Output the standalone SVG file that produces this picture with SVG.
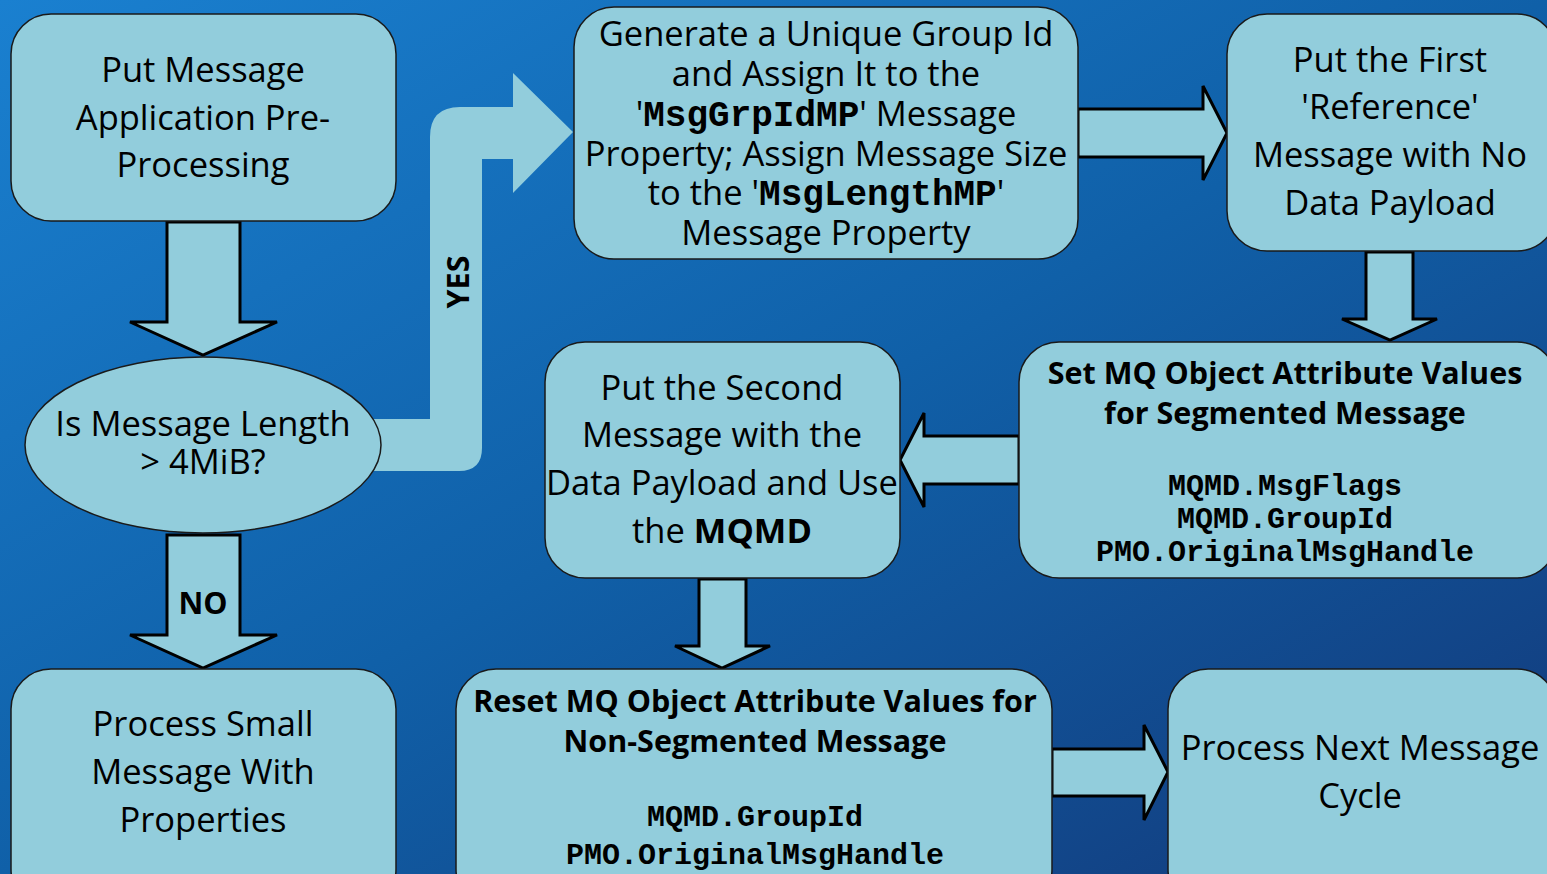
<svg xmlns="http://www.w3.org/2000/svg" width="1547" height="874" viewBox="0 0 1547 874">
<defs>
<linearGradient id="bg" x1="0" y1="0" x2="1" y2="1">
<stop offset="0" stop-color="#1a80d0"/>
<stop offset="0.5" stop-color="#1060a8"/>
<stop offset="1" stop-color="#13397a"/>
</linearGradient>
<style>
.node{fill:#92cddc;stroke:#1a1a1a;stroke-width:1.5}
.arr{fill:#92cddc;stroke:#000;stroke-width:3;stroke-linejoin:miter}
.t{font-family:"Open Sans",Lato,sans-serif;font-size:34.5px;fill:#000;text-anchor:middle}
.b{font-family:"Open Sans",Lato,sans-serif;font-weight:bold;font-size:30.5px;fill:#000;text-anchor:middle}
.m{font-family:"Liberation Mono","DejaVu Sans Mono",monospace;font-weight:bold;font-size:30px;fill:#000;text-anchor:middle}
.mi{font-family:"Liberation Mono","DejaVu Sans Mono",monospace;font-weight:bold}
</style>
</defs>
<rect width="1547" height="874" fill="url(#bg)"/>
<g id="connectors">
<path class="arr" d="M167 222 L240 222 L240 322 L277 322 L203 355 L130 322 L167 322 Z"/>
<path class="arr" d="M167 535 L240 535 L240 635 L277 635 L203 668 L130 635 L167 635 Z"/>
<path fill="#92cddc" d="M370 419 L430 419 L430 137 Q430 107 460 107 L513 107 L513 73 L573 132 L513 193 L513 159 L482 159 L482 448 Q482 471 459 471 L370 471 Z"/>
<text class="b" font-size="23" transform="translate(469 282) rotate(-90)">YES</text>
<text class="b" font-size="25" x="203" y="614">NO</text>
<path class="arr" d="M1078 109 L1203 109 L1203 86 L1227 133 L1203 180 L1203 157 L1078 157 Z"/>
<path class="arr" d="M1366 252 L1413 252 L1413 319 L1437 319 L1390 340 L1342 319 L1366 319 Z"/>
<path class="arr" d="M1019 436 L924 436 L924 413 L900 460 L924 507 L924 484 L1019 484 Z"/>
<path class="arr" d="M699 579 L746 579 L746 646 L770 646 L722 668 L675 646 L699 646 Z"/>
<path class="arr" d="M1052 749 L1144 749 L1144 725 L1168 772 L1144 820 L1144 796 L1052 796 Z"/>
</g>
<g id="n1">
<rect class="node" x="11" y="14" width="385" height="207" rx="40"/>
<text class="t" x="203" y="82">Put Message</text>
<text class="t" x="203" y="130">Application Pre-</text>
<text class="t" x="203" y="177">Processing</text>
</g>
<g id="n2">
<ellipse class="node" cx="203" cy="445" rx="178" ry="88"/>
<text class="t" x="203" y="436">Is Message Length</text>
<text class="t" x="203" y="474">&gt; 4MiB?</text>
</g>
<g id="n3">
<rect class="node" x="11" y="669" width="385" height="240" rx="40"/>
<text class="t" x="203" y="736">Process Small</text>
<text class="t" x="203" y="784">Message With</text>
<text class="t" x="203" y="832">Properties</text>
</g>
<g id="n4">
<rect class="node" x="574" y="7" width="504" height="252" rx="40"/>
<text class="t" x="826" y="46">Generate a Unique Group Id</text>
<text class="t" x="826" y="86">and Assign It to the</text>
<text class="t" x="826" y="126">'<tspan class="mi" font-size="36">MsgGrpIdMP</tspan>' Message</text>
<text class="t" x="826" y="166">Property; Assign Message Size</text>
<text class="t" x="826" y="205">to the '<tspan class="mi" font-size="36">MsgLengthMP</tspan>'</text>
<text class="t" x="826" y="245">Message Property</text>
</g>
<g id="n5">
<rect class="node" x="1227" y="14" width="330" height="237" rx="40"/>
<text class="t" x="1390" y="72">Put the First</text>
<text class="t" x="1390" y="119">'Reference'</text>
<text class="t" x="1390" y="167">Message with No</text>
<text class="t" x="1390" y="215">Data Payload</text>
</g>
<g id="n6">
<rect class="node" x="1019" y="342" width="538" height="236" rx="40"/>
<text class="b" x="1285" y="384">Set MQ Object Attribute Values</text>
<text class="b" x="1285" y="424">for Segmented Message</text>
<text class="m" x="1285" y="495">MQMD.MsgFlags</text>
<text class="m" x="1285" y="528">MQMD.GroupId</text>
<text class="m" x="1285" y="561">PMO.OriginalMsgHandle</text>
</g>
<g id="n7">
<rect class="node" x="545" y="342" width="355" height="236" rx="40"/>
<text class="t" x="722" y="400">Put the Second</text>
<text class="t" x="722" y="447">Message with the</text>
<text class="t" x="722" y="495">Data Payload and Use</text>
<text class="t" x="722" y="543">the <tspan font-weight="bold">MQMD</tspan></text>
</g>
<g id="n8">
<rect class="node" x="456" y="669" width="596" height="240" rx="40"/>
<text class="b" x="755" y="712">Reset MQ Object Attribute Values for</text>
<text class="b" x="755" y="752">Non-Segmented Message</text>
<text class="m" x="755" y="826">MQMD.GroupId</text>
<text class="m" x="755" y="864">PMO.OriginalMsgHandle</text>
</g>
<g id="n9">
<rect class="node" x="1168" y="669" width="389" height="240" rx="40"/>
<text class="t" x="1360" y="760">Process Next Message</text>
<text class="t" x="1360" y="808">Cycle</text>
</g>
</svg>
